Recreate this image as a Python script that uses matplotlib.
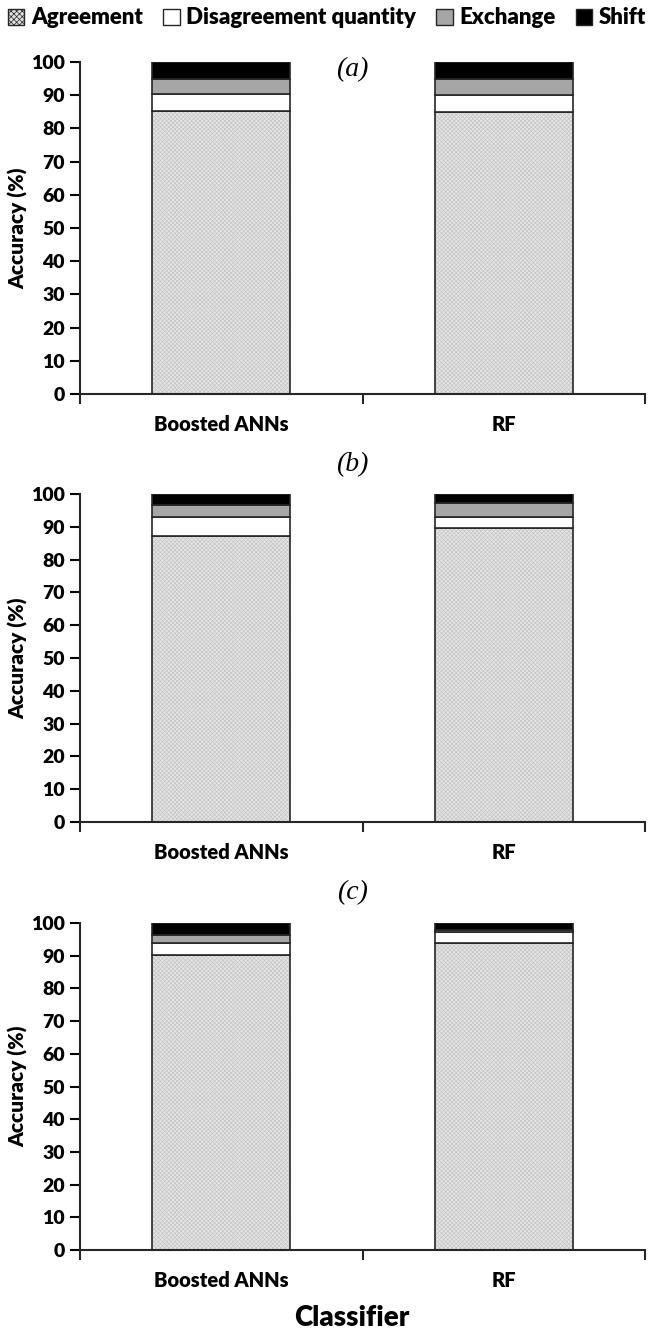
import numpy as np
import matplotlib
matplotlib.use('Agg')
import matplotlib.pyplot as plt
from matplotlib.patches import Patch

plt.rcParams['font.family'] = ['Lato', 'DejaVu Sans']
plt.rcParams['font.weight'] = 'bold'
plt.rcParams['hatch.linewidth'] = 0.5

categories = ['Boosted ANNs', 'RF']
series = ['Agreement', 'Disagreement quantity', 'Exchange', 'Shift']
panel_labels = ['(a)', '(b)', '(c)']

# values per panel (Boosted ANNs, RF)
agreement = [[85.2, 85.0], [87.3, 89.5], [90.1, 94.0]]
disagreement = [[5.1, 5.1], [5.8, 3.4], [3.9, 3.2]]
exchange = [[4.7, 4.9], [3.4, 4.3], [2.4, 0.6]]
shift = [[5.0, 5.0], [3.5, 2.8], [3.6, 2.2]]

yticks = np.arange(0, 101, 10)

W, H = 654, 1333
fig = plt.figure(figsize=(W / 100, H / 100), dpi=100)

# axes in pixels: (left, zero_y, top_y)
frames = [(80, 394, 62), (80, 822, 494), (80, 1250, 923)]
right = 645
title_y = [70, 465, 893]

edge = '#262626'
x = np.arange(1, len(categories) + 1)
bw = 0.49

for i, (l, y0, y1) in enumerate(frames):
    ax = fig.add_axes([l / W, 1 - y0 / H, (right - l) / W, (y0 - y1) / H])
    a = np.array(agreement[i])
    d = np.array(disagreement[i])
    e = np.array(exchange[i])
    s = np.array(shift[i])

    # agreement with fine grey pattern
    ax.bar(x, a, bw, color='#e6e6e6', hatch='xxxxxxxx', edgecolor='#c4c4c4', linewidth=0)
    ax.bar(x, a, bw, fill=False, edgecolor=edge, linewidth=1.2)
    ax.bar(x, d, bw, bottom=a, color='white', edgecolor=edge, linewidth=1.2)
    ax.bar(x, e, bw, bottom=a + d, color='#a6a6a6', edgecolor=edge, linewidth=1.2)
    ax.bar(x, s, bw, bottom=a + d + e, color='black', edgecolor=edge, linewidth=1.2)

    ax.set_xlim(0.5, len(categories) + 0.5)
    ax.set_ylim(0, 100)
    ax.set_yticks(yticks)
    ax.set_yticklabels([str(v) for v in yticks], fontsize=14, fontweight='heavy')
    ax.set_xticks(np.arange(0.5, len(categories) + 1, 1))
    ax.set_xticklabels([])
    ax.set_xticks(x, minor=True)
    ax.set_xticklabels(categories, minor=True, fontsize=14.5, fontweight='heavy')
    ax.tick_params(axis='x', which='minor', length=0, pad=15)
    ax.tick_params(axis='x', which='major', length=7, width=1.5, direction='out', colors='#262626')
    ax.tick_params(axis='y', length=7, width=1.5, direction='out', pad=4)
    for sp in ['top', 'right']:
        ax.spines[sp].set_visible(False)
    for sp in ['left', 'bottom']:
        ax.spines[sp].set_linewidth(1.5)
        ax.spines[sp].set_color('#262626')
    ax.set_ylabel('Accuracy (%)', fontsize=15, fontweight='heavy', labelpad=2)

    fig.text(352 / W, 1 - title_y[i] / H, panel_labels[i], ha='center', va='center',
             fontsize=20, family='Liberation Serif', style='italic', fontweight='normal')

fig.text(352 / W, 1 - 1318 / H, 'Classifier', ha='center', va='center',
         fontsize=20, fontweight='heavy')

handles = [
    Patch(facecolor='#e0e0e0', edgecolor=edge, hatch='xxxxxx', linewidth=1),
    Patch(facecolor='white', edgecolor=edge, linewidth=1),
    Patch(facecolor='#a6a6a6', edgecolor=edge, linewidth=1),
    Patch(facecolor='black', edgecolor=edge, linewidth=1),
]
fig.legend(handles, series, loc='center', bbox_to_anchor=(0.5, 1 - 18 / H), ncol=4,
           frameon=False, prop={'size': 16, 'weight': 'heavy'}, handlelength=0.75,
           handleheight=0.75, handletextpad=0.3, columnspacing=0.9, borderaxespad=0)

fig.savefig('out.png', dpi=100)
